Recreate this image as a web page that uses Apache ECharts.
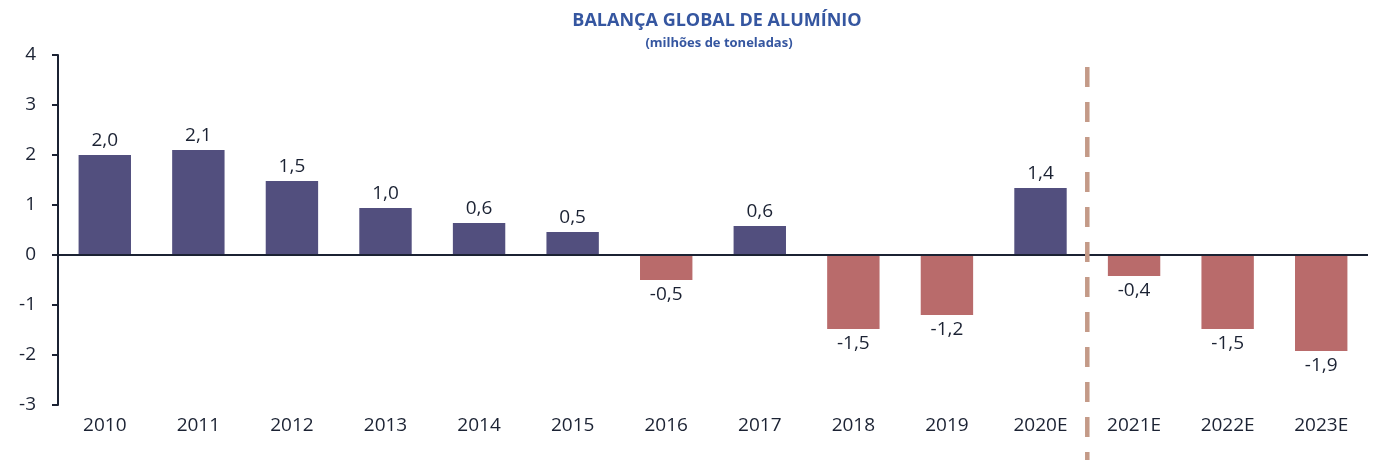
<!DOCTYPE html>
<html><head><meta charset="utf-8">
<script src="https://cdn.jsdelivr.net/npm/echarts@6/dist/echarts.min.js"></script>
<style>html,body{margin:0;padding:0;background:#fff}#c{width:1382px;height:460px}</style>
</head><body><div id="c"></div>
<script>
var categories = ['2010','2011','2012','2013','2014','2015','2016','2017','2018','2019','2020E','2021E','2022E','2023E'];
var values = [2.0, 2.1, 1.48, 0.94, 0.64, 0.46, -0.5, 0.58, -1.48, -1.2, 1.34, -0.42, -1.48, -1.92];
var valueLabels = ['2,0','2,1','1,5','1,0','0,6','0,5','-0,5','0,6','-1,5','-1,2','1,4','-0,4','-1,5','-1,9'];
var yTicks = [-3, -2, -1, 0, 1, 2, 3, 4];

var POS = '#524F7E', NEG = '#B96B6B', TXT = '#1B2233', FONT = '"Open Sans", "Noto Sans", sans-serif';
var chart = echarts.init(document.getElementById('c'));
var data = values.map(function (v, i) {
  return {
    value: v,
    itemStyle: { color: v >= 0 ? POS : NEG },
    label: { position: v >= 0 ? 'top' : 'bottom', formatter: valueLabels[i] }
  };
});
chart.setOption({
  animation: false,
  title: [{
    text: 'BALANÇA GLOBAL DE ALUMÍNIO', left: 712, textAlign: 'center', top: 7,
    textStyle: { color: '#3556A0', fontSize: 18, fontWeight: 'bold', fontFamily: FONT }
  }, {
    text: '(milhões de toneladas)', left: 714, textAlign: 'center', top: 32,
    textStyle: { color: '#3556A0', fontSize: 13, fontWeight: 'bold', fontFamily: FONT }
  }],
  grid: { left: 58, right: 14, top: 55, bottom: 55 },
  xAxis: {
    type: 'category', data: categories, position: 'bottom',
    axisLine: { show: false }, axisTick: { show: false },
    axisLabel: { color: TXT, fontSize: 19, fontFamily: FONT, margin: 11 }
  },
  yAxis: {
    type: 'value', min: yTicks[0], max: yTicks[yTicks.length - 1], interval: 1,
    axisLine: { show: true, lineStyle: { color: TXT, width: 2 } },
    axisTick: { show: true, length: 6, lineStyle: { color: TXT, width: 2 } },
    splitLine: { show: false },
    axisLabel: { color: TXT, fontSize: 19, fontFamily: FONT, margin: 22 }
  },
  series: [{
    type: 'bar', data: data, barWidth: '56%',
    label: { show: true, color: TXT, fontSize: 19, fontFamily: FONT, distance: 5 },
    markLine: {
      silent: true, symbol: 'none', label: { show: false },
      lineStyle: { color: TXT, width: 2, type: 'solid' },
      data: [{ yAxis: 0 }]
    }
  }]
});
var x1 = chart.convertToPixel({ xAxisIndex: 0 }, categories[10]);
var x2 = chart.convertToPixel({ xAxisIndex: 0 }, categories[11]);
var xm = (x1 + x2) / 2;
chart.setOption({
  graphic: [{
    type: 'line', silent: true, z: 10,
    shape: { x1: xm, y1: 67, x2: xm, y2: 460 },
    style: { stroke: '#C49A88', lineWidth: 4.5, lineDash: [20, 15] }
  }]
});
</script></body></html>
